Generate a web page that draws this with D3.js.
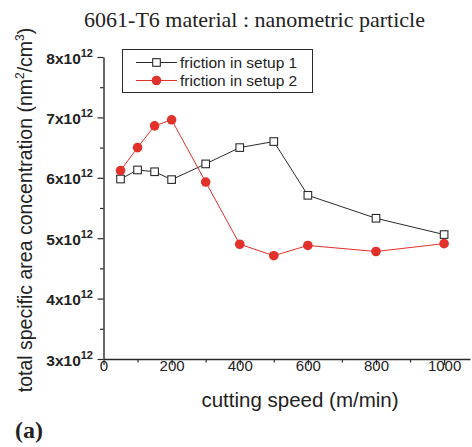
<!DOCTYPE html>
<html><head><meta charset="utf-8">
<script src="https://cdn.jsdelivr.net/npm/d3@7"></script>
<style>
body{margin:0;background:#fff;}
svg{display:block;}
text{font-family:"Liberation Sans",Arial,sans-serif;fill:#222;}
</style></head>
<body><div id="chart"></div>
<script>
const speeds = [50,100,150,200,300,400,500,600,800,1000];
const setup1 = [5.98,6.13,6.10,5.97,6.23,6.50,6.60,5.71,5.33,5.06];
const setup2 = [6.12,6.50,6.86,6.96,5.93,4.90,4.71,4.88,4.78,4.91];
const seriesNames = ["friction in setup 1","friction in setup 2"];
const xMajorTicks = [0,200,400,600,800,1000];
const xMinorTicks = [100,300,500,700,900];
const yMajorTicks = [3,4,5,6,7,8];
const yMinorTicks = [3.5,4.5,5.5,6.5,7.5];
const titleText = "6061-T6 material : nanometric particle";
const xTitle = "cutting speed (m/min)";
const panelLabel = "(a)";

const W=472,H=447;
const svg=d3.select("#chart").append("svg").attr("width",W).attr("height",H);
const x=d3.scaleLinear().domain([0,1076]).range([103.5,470]);
const y=d3.scaleLinear().domain([3,8]).range([359,57]);
const red="#e2302a", dark="#2a2a2a";

// axes
const xAxis=svg.append("g").attr("transform","translate(0,359)")
  .call(d3.axisBottom(x).tickValues(xMajorTicks).tickSize(6).tickSizeOuter(0).tickFormat(d3.format("d")));
svg.append("g").attr("transform","translate(0,359)")
  .call(d3.axisBottom(x).tickValues(xMinorTicks).tickSize(3.5).tickFormat("").tickSizeOuter(0))
  .select(".domain").remove();
xAxis.selectAll("text").attr("dy","0.1em").attr("y",10)
  .style("font-size","15px").style("font-family","Liberation Sans").attr("fill","#222");
const yAxis=svg.append("g").attr("transform","translate(103.5,0)")
  .call(d3.axisLeft(y).tickValues(yMajorTicks).tickSize(6).tickSizeOuter(0).tickFormat(""));
svg.append("g").attr("transform","translate(103.5,0)")
  .call(d3.axisLeft(y).tickValues(yMinorTicks).tickSize(3.5).tickFormat("").tickSizeOuter(0))
  .select(".domain").remove();
svg.selectAll(".domain").attr("stroke",dark).attr("stroke-width",1.4);
svg.selectAll(".tick line").attr("stroke",dark).attr("stroke-width",1.2);

// y tick labels with superscript
yMajorTicks.forEach(v=>{
  const t=svg.append("text").attr("x",93).attr("y",y(v)+6.5).attr("text-anchor","end")
    .style("font-size","15.5px").style("font-weight","bold");
  t.append("tspan").text(v+"x10");
  t.append("tspan").attr("dy",-7).style("font-size","11px").text("12");
});

// lines
const line=d3.line().x(d=>x(d[0])).y(d=>y(d[1]));
const d1=speeds.map((s,i)=>[s,setup1[i]]);
const d2=speeds.map((s,i)=>[s,setup2[i]]);
svg.append("path").datum(d1).attr("d",line).attr("fill","none").attr("stroke",dark).attr("stroke-width",1);
svg.append("path").datum(d2).attr("d",line).attr("fill","none").attr("stroke",red).attr("stroke-width",1);
svg.selectAll(".sq").data(d1).enter().append("rect")
  .attr("x",d=>x(d[0])-3.8).attr("y",d=>y(d[1])-3.8).attr("width",7.6).attr("height",7.6)
  .attr("fill","#fff").attr("stroke",dark).attr("stroke-width",1.1);
svg.selectAll(".ci").data(d2).enter().append("circle")
  .attr("cx",d=>x(d[0])).attr("cy",d=>y(d[1])).attr("r",4.8).attr("fill",red);

// legend
const lg=svg.append("g");
lg.append("rect").attr("x",122.5).attr("y",49.5).attr("width",190).attr("height",43)
  .attr("fill","#fff").attr("stroke",dark).attr("stroke-width",1);
[[62.5,dark,"sq"],[80.5,red,"ci"]].forEach(([yy,c,m],i)=>{
  lg.append("line").attr("x1",136).attr("x2",177).attr("y1",yy).attr("y2",yy).attr("stroke",c).attr("stroke-width",1);
  if(m==="sq") lg.append("rect").attr("x",156.5-3.8).attr("y",yy-3.8).attr("width",7.6).attr("height",7.6).attr("fill","#fff").attr("stroke",c).attr("stroke-width",1.1);
  else lg.append("circle").attr("cx",156.5).attr("cy",yy).attr("r",4.8).attr("fill",c);
  lg.append("text").attr("x",180).attr("y",yy+5.5).style("font-size","15.5px").text(seriesNames[i]);
});

// titles
svg.append("text").attr("x",254.5).attr("y",27).attr("text-anchor","middle")
  .style("font-family","Liberation Serif").style("font-size","22px").text(titleText);
svg.append("text").attr("x",300).attr("y",406.5).attr("text-anchor","middle")
  .style("font-size","20.5px").text(xTitle);
const yt=svg.append("text").attr("transform","translate(32,210) rotate(-90)").attr("text-anchor","middle")
  .style("font-size","19.5px");
yt.append("tspan").text("total specific area concentration (nm");
yt.append("tspan").attr("dy",-8).style("font-size","12px").text("2");
yt.append("tspan").attr("dy",8).text("/cm");
yt.append("tspan").attr("dy",-8).style("font-size","12px").text("3");
yt.append("tspan").attr("dy",8).text(")");
svg.append("text").attr("x",15).attr("y",438).style("font-family","Liberation Serif")
  .style("font-weight","bold").style("font-size","24px").text(panelLabel);
</script></body></html>
